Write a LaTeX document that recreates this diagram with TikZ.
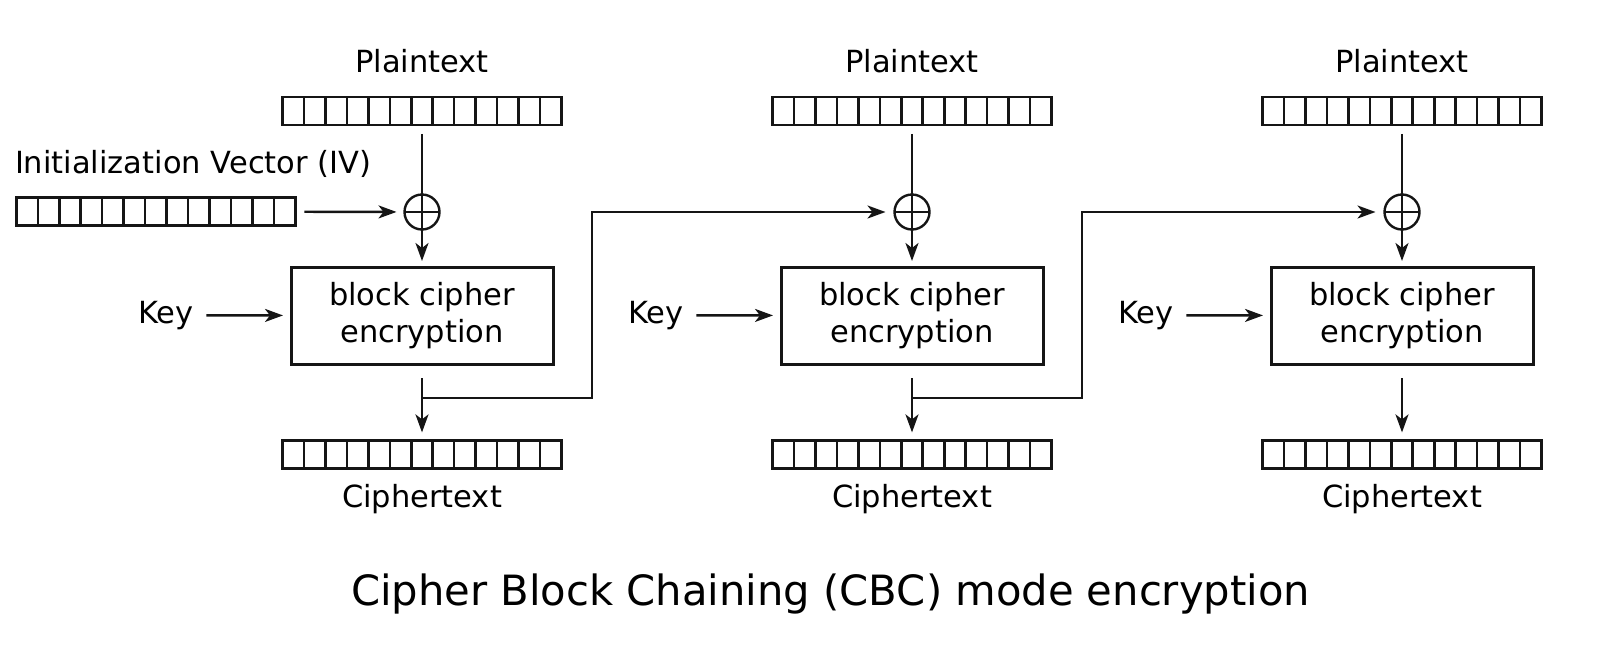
\documentclass[tikz,border=0pt]{standalone}
\usepackage{fontspec}
\setmainfont{DejaVu Sans}
\usetikzlibrary{arrows.meta,calc}
\definecolor{ink}{HTML}{151515}
\begin{document}
\begin{tikzpicture}[x=1pt,y=-1pt,
  every node/.style={outer sep=0pt},
  lbl/.style={font=\fontsize{30.5}{36}\selectfont, inner sep=0pt, text=black},
  strip/.style={draw=ink, line width=2.6pt, minimum width=279pt, minimum height=28pt, inner sep=0pt,
    path picture={\foreach \i in {1,...,12}{\draw[ink, line width=2.6pt] ([xshift=\i*21.4615pt]path picture bounding box.north west) -- ([xshift=\i*21.4615pt]path picture bounding box.south west);}}},
  cipherbox/.style={draw=ink, line width=3pt, minimum width=262pt, minimum height=97pt, align=center, inner sep=0pt, font=\fontsize{30.5}{37.5}\selectfont},
  xor/.style={draw=ink, circle, line width=2.4pt, minimum size=35pt, inner sep=0pt,
    path picture={\draw[ink,line width=2.4pt] (path picture bounding box.north) -- (path picture bounding box.south) (path picture bounding box.west) -- (path picture bounding box.east);}},
  conn/.style={draw=ink, line width=2.4pt, -{Stealth[length=18pt,width=13pt,inset=5pt]}},
  plain/.style={draw=ink, line width=2.4pt},
]
\useasboundingbox[fill=white] (0,0) rectangle (1600,646);

\foreach \k/\cx in {1/422,2/912,3/1402}{
  \node[lbl, anchor=base] (pt\k) at (\cx,72.3) {Plaintext};
  \node[strip] (p\k) at (\cx,110.8) {};
  \node[xor] (x\k) at (\cx,212) {};
  \node[cipherbox] (b\k) at (\cx,315.5) {block cipher\\encryption};
  \node[lbl, anchor=base west] (k\k) at (\cx-284,323.3) {Key};
  \node[strip] (c\k) at (\cx,454.4) {};
  \node[lbl, anchor=base] (ct\k) at (\cx,507.5) {Ciphertext};
  \draw[plain, shorten <=9pt] (p\k) -- (x\k);
  \draw[conn, shorten >=6pt] (x\k) -- (b\k);
  \draw[conn, shorten <=13pt, shorten >=8pt] (k\k) -- (b\k);
  \draw[conn, shorten <=14pt, shorten >=8pt] (b\k) -- (c\k);
}

\foreach \k/\cx/\n in {1/422/2,2/912/3}{
  \coordinate (j\k) at (\cx,398);
  \draw[conn, shorten >=9pt] (j\k) -- ++(170,0) |- (x\n);
}

\node[lbl, anchor=base west] (ivl) at (15,173) {Initialization Vector (IV)};
\node[strip] (iv) at (155.85,211.5) {};
\draw[conn, shorten <=9pt, shorten >=8pt] (iv) -- (x1);

\node[font=\fontsize{41.7}{50}\selectfont, anchor=base west, inner sep=0pt] (title) at (351,605) {Cipher Block Chaining (CBC) mode encryption};
\end{tikzpicture}
\end{document}
